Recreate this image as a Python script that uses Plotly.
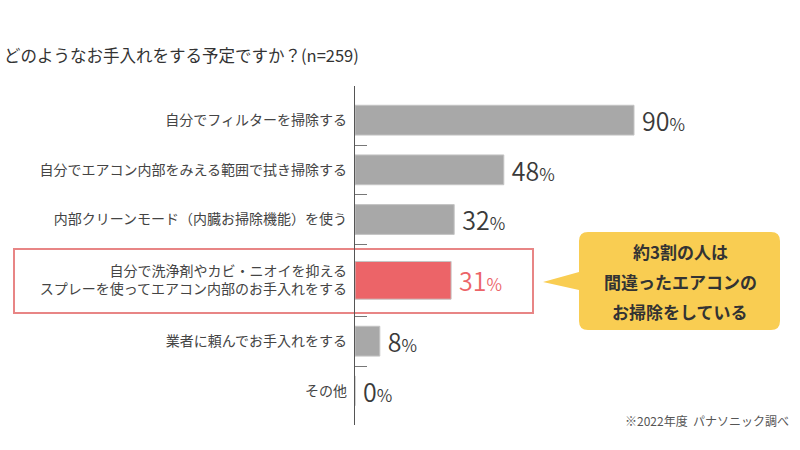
import plotly.graph_objects as go

# data
labels = [
    "自分でフィルターを掃除する",
    "自分でエアコン内部をみえる範囲で拭き掃除する",
    "内部クリーンモード（内臓お掃除機能）を使う",
    "自分で洗浄剤やカビ・ニオイを抑える<br>スプレーを使ってエアコン内部のお手入れをする",
    "業者に頼んでお手入れをする",
    "その他",
]
values = [90, 48, 32, 31, 8, 0]
highlight = 3

FONT = "Noto Sans CJK JP"
GRAY = "#a8a8a8"
RED = "#ec6468"

# plot area in pixels
L, R, T, B = 355, 780, 86, 425
W, H = 800, 450


def px(x):
    return (x - L) / (R - L)


def py(y):
    return (B - y) / (B - T)


# row layout: highlighted row is taller than the others
row_h = [1.45 if i == highlight else 1.0 for i in range(len(values))]
bounds = [0.0]
for h in row_h:
    bounds.append(bounds[-1] + h)
centers = [(bounds[i] + bounds[i + 1]) / 2 for i in range(len(values))]
bar_w = [0.76 if i == highlight else 0.6 for i in range(len(values))]

colors = [RED if i == highlight else GRAY for i in range(len(values))]
texts = []
for i, v in enumerate(values):
    c = RED if i == highlight else "#3a3a3a"
    texts.append(f"<span style='color:{c}'>\u2009{v}<span style='font-size:17px'>%</span></span>")

fig = go.Figure()
fig.add_trace(go.Bar(
    x=values, y=centers, orientation="h",
    marker=dict(color=colors, line=dict(color="#c4c4c4", width=1)),
    width=bar_w,
    text=texts, textposition="outside", cliponaxis=False, constraintext="none",
    textfont=dict(size=25, family=FONT, weight=350),
    hoverinfo="skip",
))

# pixel scale: boundary ticks at 145 and 366 px
unit = (366 - 145) / (bounds[5] - bounds[1])
y_top = bounds[1] - (145 - T) / unit
y_bot = bounds[1] + (B - 145) / unit

fig.update_xaxes(range=[0, (R - L) / 3.1], visible=False, fixedrange=True)
fig.update_yaxes(
    range=[y_bot, y_top], fixedrange=True,
    showline=True, linecolor="#555555", linewidth=1.2,
    tickmode="array", tickvals=centers, ticktext=labels, ticks="",
    minor=dict(tickmode="array", tickvals=bounds[1:-1], ticks="inside",
               ticklen=12, tickcolor="#777777", showgrid=False),
    tickfont=dict(size=14, color="#444444", family=FONT),
    ticklabelstandoff=4, showgrid=False, zeroline=False, automargin=False,
)

# red highlight box
fig.add_shape(type="rect", xref="paper", yref="paper",
              x0=px(14), x1=px(533), y0=py(313), y1=py(249),
              line=dict(color="#e88585", width=2), fillcolor="rgba(0,0,0,0)", layer="below")

# yellow callout with pointer
bx0, bx1, by0, by1, r = 579, 780, 232, 330, 9
path_pts = (
    f"M {px(bx0 + r)},{py(by0)} L {px(bx1 - r)},{py(by0)} "
    f"Q {px(bx1)},{py(by0)} {px(bx1)},{py(by0 + r)} "
    f"L {px(bx1)},{py(by1 - r)} Q {px(bx1)},{py(by1)} {px(bx1 - r)},{py(by1)} "
    f"L {px(bx0 + r)},{py(by1)} Q {px(bx0)},{py(by1)} {px(bx0)},{py(by1 - r)} "
    f"L {px(bx0)},{py(290)} L {px(543)},{py(282)} L {px(bx0)},{py(272)} "
    f"L {px(bx0)},{py(by0 + r)} Q {px(bx0)},{py(by0)} {px(bx0 + r)},{py(by0)} Z"
)
fig.add_shape(type="path", xref="paper", yref="paper", path=path_pts,
              fillcolor="#f9cd52", line=dict(width=0))
callout = ["約3割の人は", "間違ったエアコンの", "お掃除をしている"]
for line, yy in zip(callout, [251, 281, 311]):
    fig.add_annotation(xref="paper", yref="paper", x=px(680), y=py(yy),
                       xanchor="center", yanchor="middle",
                       text=f"<b>{line}</b>", showarrow=False,
                       font=dict(size=17, color="#333333", family=FONT))

# title
fig.add_annotation(xref="paper", yref="paper", x=px(2), y=py(55),
                   xanchor="left", yanchor="middle",
                   text="どのようなお手入れをする予定ですか？(n=259)", showarrow=False,
                   font=dict(size=16.5, color="#333333", family=FONT))
# source
fig.add_annotation(xref="paper", yref="paper", x=px(791), y=py(420),
                   xanchor="right", yanchor="middle",
                   text="※2022年度  パナソニック調べ", showarrow=False,
                   font=dict(size=12, color="#555555", family=FONT))

fig.update_layout(
    width=W, height=H,
    margin=dict(l=L, r=W - R, t=T, b=H - B),
    paper_bgcolor="white", plot_bgcolor="white",
    showlegend=False,
    font=dict(family=FONT),
)

fig.write_html("out.html", config={"displayModeBar": False},
               post_script="document.body.style.margin='0';")
